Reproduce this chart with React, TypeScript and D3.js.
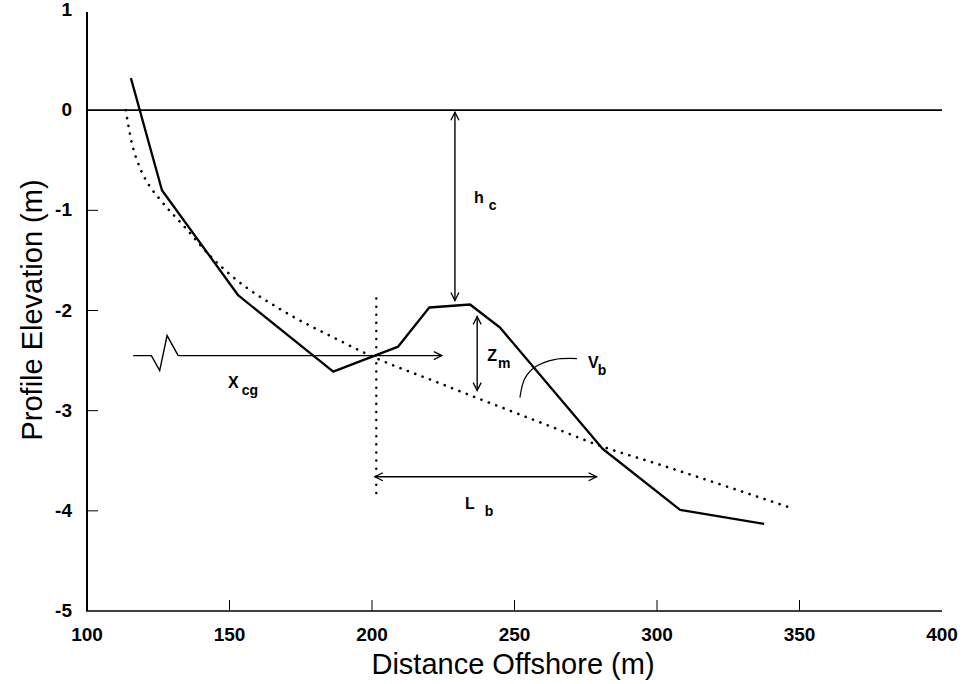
import React, { useEffect, useRef } from "react";
import * as d3 from "d3";

// measured profile (solid) - [distance offshore (m), elevation (m)]
const measuredProfile: [number, number][] = [
  [115.4, 0.32],
  [126.3, -0.8],
  [153.1, -1.85],
  [186.4, -2.61],
  [209.2, -2.36],
  [220.1, -1.97],
  [234.4, -1.94],
  [244.9, -2.17],
  [280.9, -3.38],
  [308.1, -3.99],
  [337.6, -4.13],
];

// equilibrium profile (dotted)
const equilibriumProfile: [number, number][] = [
  [113.6, 0],
  [115.5, -0.3],
  [118.5, -0.57],
  [121.8, -0.75],
  [125.3, -0.88],
  [134.7, -1.18],
  [143.4, -1.46],
  [152.7, -1.7],
  [167.4, -1.98],
  [188.6, -2.3],
  [200.2, -2.46],
  [222.3, -2.71],
  [233, -2.83],
  [262, -3.15],
  [280, -3.35],
  [300, -3.53],
  [347, -3.97],
];

const xTicks = [100, 150, 200, 250, 300, 350, 400];
const yTicks = [1, 0, -1, -2, -3, -4, -5];

// annotation geometry, in data units
const barCentroidX = 201.5;
const barCentroidSpan = [-1.88, -3.87];
const xcgBreak: [number, number][] = [
  [116.2, -2.45],
  [122.6, -2.45],
  [125.5, -2.6],
  [128.1, -2.25],
  [132, -2.45],
];
const xcgArrow = { x0: 132, x1: 224.5, y: -2.45 };
const hcArrow = { x: 229.1, y0: -0.02, y1: -1.9 };
const zmArrow = { x: 236.9, y0: -2.06, y1: -2.8 };
const lbArrow = { y: -3.66, x0: 201, x1: 278.8 };
const vbArc: [number, number][] = [
  [251.9, -2.87],
  [253.6, -2.68],
  [257.5, -2.56],
  [264, -2.49],
  [271.9, -2.48],
];
const labels = [
  { main: "h", sub: "c", x: 235.8, y: -0.93, gap: 5 },
  { main: "Z", sub: "m", x: 240.4, y: -2.5, gap: 1 },
  { main: "V", sub: "b", x: 275.8, y: -2.57, gap: -1 },
  { main: "L", sub: "b", x: 232.6, y: -3.98, gap: 10 },
  { main: "X", sub: "cg", x: 149.5, y: -2.77, gap: 3 },
];

const FONT = "'Liberation Sans', Arial, Helvetica, sans-serif";

export default function App() {
  const ref = useRef<SVGSVGElement | null>(null);

  useEffect(() => {
    const svg = d3.select(ref.current);
    svg.selectAll("*").remove();

    const x = d3.scaleLinear().domain([100, 400]).range([87, 942]);
    const y = d3.scaleLinear().domain([-5, 1]).range([611, 10]);

    const defs = svg.append("defs");
    defs
      .append("marker")
      .attr("id", "head")
      .attr("viewBox", "-10 -6 12 12")
      .attr("refX", 0)
      .attr("refY", 0)
      .attr("markerWidth", 12)
      .attr("markerHeight", 12)
      .attr("markerUnits", "userSpaceOnUse")
      .attr("orient", "auto-start-reverse")
      .append("path")
      .attr("d", "M-8,-4 L0,0 L-8,4")
      .attr("fill", "none")
      .attr("stroke", "#000")
      .attr("stroke-width", 1.3);

    const line = d3
      .line<[number, number]>()
      .x((d) => x(d[0]))
      .y((d) => y(d[1]));

    // axes
    svg
      .append("line")
      .attr("x1", x(100))
      .attr("x2", x(100))
      .attr("y1", y(1) + 2)
      .attr("y2", y(-5))
      .attr("stroke", "#000")
      .attr("stroke-width", 2);
    svg
      .append("line")
      .attr("x1", x(100) - 1)
      .attr("x2", x(400))
      .attr("y1", y(-5))
      .attr("y2", y(-5))
      .attr("stroke", "#000")
      .attr("stroke-width", 1.6);
    // zero line
    svg
      .append("line")
      .attr("x1", x(100))
      .attr("x2", x(400))
      .attr("y1", y(0))
      .attr("y2", y(0))
      .attr("stroke", "#000")
      .attr("stroke-width", 1.6);

    // ticks (inward)
    svg
      .selectAll(".ytick")
      .data(yTicks.filter((t) => t < 0 && t > -5))
      .enter()
      .append("line")
      .attr("x1", x(100))
      .attr("x2", x(100) + 11)
      .attr("y1", (d) => y(d))
      .attr("y2", (d) => y(d))
      .attr("stroke", "#000")
      .attr("stroke-width", 1);
    svg
      .selectAll(".xtick")
      .data(xTicks.filter((t) => t > 100 && t < 400))
      .enter()
      .append("line")
      .attr("x1", (d) => x(d))
      .attr("x2", (d) => x(d))
      .attr("y1", y(-5))
      .attr("y2", y(-5) - 11)
      .attr("stroke", "#000")
      .attr("stroke-width", 1);

    // tick labels
    svg
      .selectAll(".ylab")
      .data(yTicks)
      .enter()
      .append("text")
      .attr("x", x(100) - 15)
      .attr("y", (d) => y(d) + 6)
      .attr("text-anchor", "end")
      .attr("font-family", FONT)
      .attr("font-weight", "bold")
      .attr("font-size", 19)
      .text((d) => String(d));
    svg
      .selectAll(".xlab")
      .data(xTicks)
      .enter()
      .append("text")
      .attr("x", (d) => x(d))
      .attr("y", 641)
      .attr("text-anchor", "middle")
      .attr("font-family", FONT)
      .attr("font-weight", "bold")
      .attr("font-size", 19)
      .text((d) => String(d));

    // axis titles
    svg
      .append("text")
      .attr("x", 513)
      .attr("y", 674)
      .attr("text-anchor", "middle")
      .attr("font-family", FONT)
      .attr("font-size", 29)
      .text("Distance Offshore (m)");
    svg
      .append("text")
      .attr("transform", `translate(42,${310})rotate(-90)`)
      .attr("text-anchor", "middle")
      .attr("font-family", FONT)
      .attr("font-size", 29)
      .text("Profile Elevation (m)");

    // profiles
    svg
      .append("path")
      .attr("d", line.curve(d3.curveMonotoneX)(equilibriumProfile))
      .attr("fill", "none")
      .attr("stroke", "#000")
      .attr("stroke-width", 2.6)
      .attr("stroke-linecap", "round")
      .attr("stroke-dasharray", "0.1 7.8");
    svg
      .append("path")
      .attr("d", line.curve(d3.curveLinear)(measuredProfile))
      .attr("fill", "none")
      .attr("stroke", "#000")
      .attr("stroke-width", 2.3)
      .attr("stroke-linejoin", "round");

    // bar centroid line
    svg
      .append("line")
      .attr("x1", x(barCentroidX))
      .attr("x2", x(barCentroidX))
      .attr("y1", y(barCentroidSpan[0]))
      .attr("y2", y(barCentroidSpan[1]))
      .attr("stroke", "#000")
      .attr("stroke-width", 2.4)
      .attr("stroke-linecap", "round")
      .attr("stroke-dasharray", "0.1 8");

    // x_cg arrow with break symbol
    svg
      .append("path")
      .attr("d", line(xcgBreak))
      .attr("fill", "none")
      .attr("stroke", "#000")
      .attr("stroke-width", 1.4);
    svg
      .append("line")
      .attr("x1", x(xcgArrow.x0))
      .attr("x2", x(xcgArrow.x1))
      .attr("y1", y(xcgArrow.y))
      .attr("y2", y(xcgArrow.y))
      .attr("stroke", "#000")
      .attr("stroke-width", 1.1)
      .attr("marker-end", "url(#head)");

    // h_c, Z_m double arrows
    [hcArrow, zmArrow].forEach((a) => {
      svg
        .append("line")
        .attr("x1", x(a.x))
        .attr("x2", x(a.x))
        .attr("y1", y(a.y0))
        .attr("y2", y(a.y1))
        .attr("stroke", "#000")
        .attr("stroke-width", 1.4)
        .attr("marker-start", "url(#head)")
        .attr("marker-end", "url(#head)");
    });

    // L_b double arrow
    svg
      .append("line")
      .attr("x1", x(lbArrow.x0))
      .attr("x2", x(lbArrow.x1))
      .attr("y1", y(lbArrow.y))
      .attr("y2", y(lbArrow.y))
      .attr("stroke", "#000")
      .attr("stroke-width", 1.4)
      .attr("marker-start", "url(#head)")
      .attr("marker-end", "url(#head)");

    // V_b arc
    svg
      .append("path")
      .attr("d", line.curve(d3.curveCatmullRom)(vbArc))
      .attr("fill", "none")
      .attr("stroke", "#000")
      .attr("stroke-width", 1.2);

    // labels
    labels.forEach((l) => {
      const t = svg
        .append("text")
        .attr("x", x(l.x))
        .attr("y", y(l.y))
        .attr("font-family", FONT)
        .attr("font-weight", "bold")
        .attr("font-size", 16);
      t.append("tspan").text(l.main);
      t.append("tspan")
        .attr("dx", l.gap)
        .attr("dy", 7)
        .attr("font-size", 14)
        .text(l.sub);
    });
  }, []);

  return (
    <div style={{ position: "absolute", left: 0, top: 0 }}>
      <svg ref={ref} width={964} height={684} style={{ display: "block", background: "#fff" }} />
    </div>
  );
}
